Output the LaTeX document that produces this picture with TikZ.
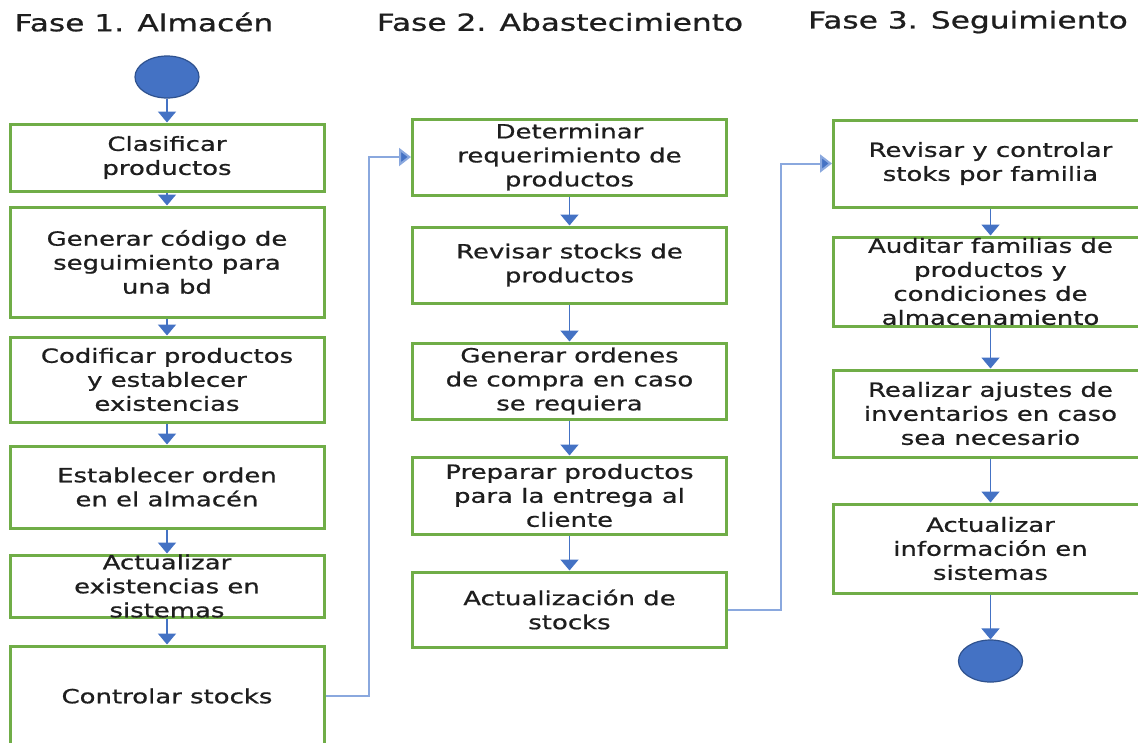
\documentclass[tikz,border=0pt]{standalone}
\usepackage{fontspec}
\setmainfont{DejaVu Sans}[FakeStretch=1.33, FakeBold=0.8]
\usetikzlibrary{arrows.meta,shapes.geometric}
\definecolor{boxgreen}{HTML}{70AD47}
\definecolor{flowblue}{HTML}{4472C4}
\definecolor{linkblue}{HTML}{8AA8DE}
\definecolor{edgeblue}{HTML}{2F528F}
\definecolor{ink}{HTML}{1E1E1E}
\tikzset{
  stepbox/.style={draw=boxgreen, line width=3pt, fill=white, inner sep=0pt,
    minimum width=314pt},
  txt/.style={align=center, text=ink, inner sep=0pt,
    font=\fontsize{19.5}{24}\selectfont},
  phase/.style={text=ink, inner sep=0pt, font=\fontsize{23.5}{28}\selectfont},
  terminal/.style={ellipse, draw=edgeblue, line width=1.2pt, fill=flowblue,
    minimum width=64pt, minimum height=42pt, inner sep=0pt},
  flow/.style={draw=flowblue, line width=1.8pt,
    -{Triangle[width=18pt,length=11pt]}},
  link/.style={draw=linkblue, line width=2pt,
    -{Triangle[width=18pt,length=12pt,fill=flowblue]}},
}
\newcommand{\stepnode}[5]{% name, x, y, height, text
  \node[stepbox, minimum height=#4pt, label={[txt]center:{#5}}] (#1) at (#2,#3) {};}
\begin{document}
\begin{tikzpicture}[x=1pt, y=-1pt]
\clip (0,0) rectangle (1138,742);
\fill[white] (0,0) rectangle (1138,742);

% phase headings
\node[phase] (h1) at (144,22) {Fase 1. Almacén};
\node[phase] (h2) at (560,22) {Fase 2. Abastecimiento};
\node[phase] (h3) at (968,22) {Fase 3. Seguimiento};

% phase 1
\node[terminal] (start) at (167,77) {};
\stepnode{a1}{167}{157.5}{67}{Clasificar\\productos}
\stepnode{a2}{167}{262}{110}{Generar código de\\seguimiento para\\una bd}
\stepnode{a3}{167}{379.5}{85}{Codificar productos\\y establecer\\existencias}
\stepnode{a4}{167}{487}{82}{Establecer orden\\en el almacén}
\stepnode{a5}{167}{586}{62}{Actualizar\\existencias en\\sistemas}
\stepnode{a6}{167}{696}{100}{Controlar stocks}

% phase 2
\stepnode{b1}{569.5}{157}{76}{Determinar\\requerimiento de\\productos}
\stepnode{b2}{569.5}{265}{76}{Revisar stocks de\\productos}
\stepnode{b3}{569.5}{381}{76}{Generar ordenes\\de compra en caso\\se requiera}
\stepnode{b4}{569.5}{495.5}{77}{Preparar productos\\para la entrega al\\cliente}
\stepnode{b5}{569.5}{609.5}{75}{Actualización de\\stocks}

% phase 3
\stepnode{c1}{990.5}{163.5}{87}{Revisar y controlar\\stoks por familia}
\stepnode{c2}{990.5}{281.5}{89}{Auditar familias de\\productos y\\condiciones de\\almacenamiento}
\stepnode{c3}{990.5}{413.5}{87}{Realizar ajustes de\\inventarios en caso\\sea necesario}
\stepnode{c4}{990.5}{548.5}{89}{Actualizar\\información en\\sistemas}
\node[terminal] (stop) at (990.5,661) {};

% flow inside each phase
\draw[flow] (start) -- (a1);
\draw[flow] (a1) -- (a2);
\draw[flow] (a2) -- (a3);
\draw[flow] (a3) -- (a4);
\draw[flow] (a4) -- (a5);
\draw[flow] (a5) -- (a6);
\draw[flow] (b1) -- (b2);
\draw[flow] (b2) -- (b3);
\draw[flow] (b3) -- (b4);
\draw[flow] (b4) -- (b5);
\draw[flow] (c1) -- (c2);
\draw[flow] (c2) -- (c3);
\draw[flow] (c3) -- (c4);
\draw[flow] (c4) -- (stop);

% links between phases
\coordinate (k1) at (369,157);
\coordinate (k2) at (781,163.5);
\draw[link] (a6.east) -| (k1) -- (b1.west);
\draw[link] (b5.east) -| (k2) -- (c1.west);
\end{tikzpicture}
\end{document}
